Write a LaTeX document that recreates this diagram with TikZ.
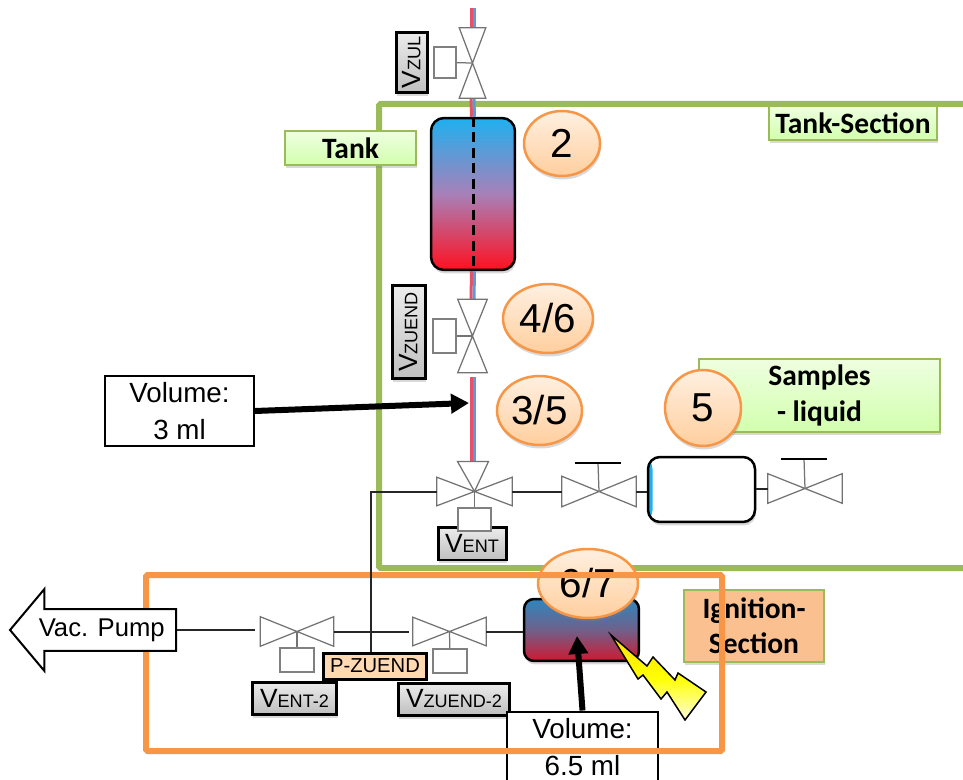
\documentclass[tikz,border=0pt]{standalone}
\usepackage{fontspec}
\setmainfont{Liberation Sans}
\newfontfamily\labelfont{Carlito}
\usetikzlibrary{arrows.meta,shapes.geometric,shapes.arrows,shadows}
\definecolor{secgreen}{HTML}{9BBB59}
\definecolor{secorange}{HTML}{F79646}
\definecolor{tankblue}{HTML}{1FB0F0}
\definecolor{tankmid}{HTML}{A880B8}
\definecolor{tankred}{HTML}{FF1020}
\definecolor{chambertop}{HTML}{2E86BE}
\definecolor{chambermid}{HTML}{70608A}
\definecolor{chamberbot}{HTML}{D01830}
\definecolor{ignitionfill}{HTML}{FAC08F}
\definecolor{pipepink}{HTML}{E8506A}
\definecolor{pipesky}{HTML}{5B9BD5}
\newcommand{\vname}[2]{{\fontsize{15}{16}\selectfont #1}{\fontsize{10.3}{12}\selectfont #2}}
\begin{document}
\begin{tikzpicture}[
        x=0.02cm, y=-0.02cm,
        softshadow/.style={drop shadow={shadow xshift=0.02cm, shadow yshift=-0.07cm, opacity=0.3}},
        section/.style={draw=#1, line width=0.12cm, rounded corners=0.03cm},
        secname/.style={rectangle, draw=secgreen, line width=0.04cm, top color=green!55!yellow!12, bottom color=green!55!yellow!32, softshadow, font=\labelfont\bfseries\fontsize{16.8}{20}\selectfont, align=center, inner sep=0pt},
        bubble/.style={ellipse, draw=secorange, line width=0.05cm, top color=orange!12, bottom color=orange!38, softshadow, font=\fontsize{23}{26}\selectfont, inner sep=0pt},
        valvename/.style={rectangle, draw=black, line width=0.06cm, top color=gray!15, bottom color=gray!50, softshadow, inner sep=0pt},
        volbox/.style={rectangle, draw=black, line width=0.04cm, fill=white, font=\fontsize{15.8}{21}\selectfont, align=center, inner sep=0pt},
        bigarrow/.style={-{Triangle[length=0.36cm, width=0.38cm]}, line width=0.12cm},
        vessel/.style={rectangle, draw=black, line width=0.05cm, rounded corners=0.26cm, inner sep=0pt, softshadow},
        valvebody/.style={rectangle, inner sep=0pt},
        valveline/.style={draw=gray!90!black, line width=0.025cm, fill=white},
        actuator/.style={rectangle, draw=gray, line width=0.03cm, fill=white, inner sep=0pt},
        line/.style={line width=0.04cm, draw=black!85},
        pipered/.style={line width=0.06cm, draw=pipepink},
        pipeblue/.style={line width=0.06cm, draw=pipesky}
    ]
        \useasboundingbox (0,0) rectangle (963,780);
        \clip (0,0) rectangle (963,780);

        % Tank section frame
        \draw[section=secgreen] (379,104) rectangle (1000,568);

        % Pipe points
        \coordinate (p_top) at (472.5,8);
        \coordinate (p_mid) at (472.5,377);
        \coordinate (p_bot) at (472.5,462);

        % Vessels
        \node[vessel, minimum width=1.68cm, minimum height=3.04cm, top color=tankblue, bottom color=tankred, middle color=tankmid] (tank) at (473,194) {};
        \node[vessel, minimum width=2.14cm, minimum height=1.3cm, rounded corners=0.24cm, fill=white, path picture={\fill[tankblue] (path picture bounding box.south west) rectangle ([xshift=0.09cm]path picture bounding box.north west);}] (sample) at (701.5,489.5) {};
        \node[vessel, minimum width=2.3cm, minimum height=1.24cm, rounded corners=0.2cm, top color=chambertop, bottom color=chamberbot, middle color=chambermid] (chamber) at (581.5,630) {};

        % Valves
        \node[valvebody, minimum width=0.52cm, minimum height=1.4cm] (v_zul) at (472.5,63) {};
        \node[valvebody, minimum width=0.58cm, minimum height=1.46cm] (v_zuend) at (472.5,336) {};
        \node[valvebody, minimum width=1.5cm, minimum height=0.56cm] (v_ent) at (474.5,491.5) {};
        \node[valvebody, minimum width=1.48cm, minimum height=0.6cm] (v_left) at (599,491.5) {};
        \node[valvebody, minimum width=1.48cm, minimum height=0.58cm] (v_right) at (805,488.5) {};
        \node[valvebody, minimum width=1.46cm, minimum height=0.58cm] (v_ent2) at (297,631.5) {};
        \node[valvebody, minimum width=1.46cm, minimum height=0.56cm] (v_zuend2) at (449.5,631.5) {};

        % Actuators
        \node[actuator, minimum width=0.44cm, minimum height=0.62cm] (a_zul) at (445,62.5) {};
        \node[actuator, minimum width=0.46cm, minimum height=0.68cm] (a_zuend) at (444.5,336) {};
        \node[actuator, minimum width=0.68cm, minimum height=0.48cm] (a_ent2) at (297,660) {};
        \node[actuator, minimum width=0.68cm, minimum height=0.48cm] (a_zuend2) at (450,661) {};

        % Handles
        \coordinate (h_left) at (598,463);
        \coordinate (h_right) at (804,459);

        % Pipes
        \foreach \a/\b in {p_top/v_zul.north, v_zul.south/tank.north, tank.south/v_zuend.north, p_mid/p_bot} {
            \draw[pipered] ([xshift=-0.03cm]\a) -- ([xshift=-0.03cm]\b);
            \draw[pipeblue] ([xshift=0.03cm]\a) -- ([xshift=0.03cm]\b);
        }
        \draw[line width=0.06cm, dash pattern=on 0.2cm off 0.11cm] (tank.north) -- (tank.south);

        % Valve bodies
        \foreach \v in {v_zul, v_zuend}
            \draw[valveline] (\v.north west) -- (\v.south east) -- (\v.south west) -- (\v.north east) -- cycle;
        \foreach \v in {v_ent, v_left, v_right, v_ent2, v_zuend2}
            \draw[valveline] (\v.north west) -- (\v.south east) -- (\v.north east) -- (\v.south west) -- cycle;
        \draw[valveline] (v_ent.center) -- +(-17,-30) -- +(14,-30) -- cycle;
        \draw[valveline] (a_zul) -- (v_zul.center);
        \draw[valveline] (a_zuend) -- (v_zuend.center);
        \draw[valveline] (a_ent2) -- (v_ent2.center);
        \draw[valveline] (a_zuend2) -- (v_zuend2.center);
        \draw[valveline] (h_left) -- (v_left.center);
        \draw[valveline] (h_right) -- (v_right.center);
        \draw[line width=0.05cm] (h_left) +(-23,0) -- +(23,0);
        \draw[line width=0.05cm] (h_right) +(-23,0) -- +(23,0);

        % Valve names
        \node[valvename, rotate=90, minimum width=1.22cm, minimum height=0.62cm] (n_zul) at (411.5,62.5) {\vname{V}{ZUL}};
        \node[valvename, rotate=90, minimum width=1.88cm, minimum height=0.66cm] (n_zuend) at (408.5,332) {\vname{V}{ZUEND}};
        \node[valvename, minimum width=1.36cm, minimum height=0.66cm] (n_ent) at (472,543.5) {\vname{V}{ENT}};
        \node[actuator, minimum width=0.66cm, minimum height=0.46cm] (a_ent) at (474.5,519.5) {};
        \draw[valveline] (a_ent) -- (v_ent.center);
        \node[valvename, minimum width=1.7cm, minimum height=0.64cm] (n_ent2) at (294.5,698) {\vname{V}{ENT-2}};
        \node[valvename, minimum width=2.24cm, minimum height=0.64cm] (n_zuend2) at (454,699) {\vname{V}{ZUEND-2}};

        % Section names
        \node[secname, minimum width=2.62cm, minimum height=0.68cm] (l_tank) at (350.5,148) {Tank};
        \node[secname, minimum width=3.36cm, minimum height=0.68cm] (l_section) at (853,123) {Tank-Section};
        \node[secname, minimum width=4.82cm, minimum height=1.46cm] (l_samples) at (819.5,395.5) {Samples\\- liquid};
        \node[secname, minimum width=2.8cm, minimum height=1.44cm, top color=ignitionfill, bottom color=ignitionfill] (l_ignition) at (754,626) {Ignition-\\Section};

        % Numbers
        \node[bubble, minimum width=1.52cm, minimum height=1.3cm] (b_two) at (562,143.5) {2};
        \node[bubble, minimum width=1.8cm, minimum height=1.38cm] (b_fourSix) at (548,318.5) {4/6};
        \node[bubble, minimum width=1.7cm, minimum height=1.38cm] (b_threeFive) at (539.5,410.5) {3/5};
        \node[bubble, minimum width=1.52cm, minimum height=1.52cm] (b_five) at (703,408) {5};
        \node[bubble, minimum width=2cm, minimum height=1.38cm] (b_sixSeven) at (588,583.5) {6/7};

        % Volume boxes
        \node[volbox, minimum width=2.98cm, minimum height=1.4cm] (vol_three) at (179.5,411) {Volume:\\3 ml};
        \node[volbox, minimum width=3.02cm, minimum height=1.44cm] (vol_six) at (582.5,747.5) {Volume:\\6.5 ml};

        % Ignition spark
        \draw[line width=0.03cm, top color=yellow!75!orange, bottom color=yellow!15, middle color=yellow] (611,635) -- (647,666) -- (653,657) -- (675,680) -- (678,673) -- (706,692) -- (685,720) -- (667,692) -- (661,699) -- (643,675) -- (638,679) -- cycle;

        % Ignition section frame
        \draw[section=secorange] (146,575) rectangle (722,751);

        % Pump
        \node[single arrow, shape border rotate=180, draw=black, line width=0.04cm, fill=white, anchor=tail, minimum height=3.32cm, minimum width=1.64cm, single arrow head extend=0.32cm, single arrow tip angle=100, inner xsep=0pt, inner ysep=0.08cm, font=\fontsize{14.6}{16}\selectfont] (pump) at (177,630) {Vac. Pump};

        % Connections
        \coordinate (c_pump) at (255,630);
        \coordinate (c_mid) at (409,631.5);
        \draw[line] (pump.tail) -- (c_pump);
        \draw[line] (v_ent2.east) -- (c_mid);
        \draw[line] (v_zuend2.east) -- (v_zuend2.east -| chamber.west);
        \draw[line] (v_ent.east) -- (v_left.west);
        \draw[line] (v_left.east) -- (v_left.east -| sample.west);
        \draw[line] (sample.east |- v_right) -- (v_right.west);

        % Pressure sensor
        \node[rectangle, draw=black, line width=0.06cm, fill=orange!30, minimum width=2.08cm, minimum height=0.52cm, inner sep=0pt, font=\fontsize{11.5}{13}\selectfont] (p_zuend) at (375,666) {P-ZUEND};
        \draw[line] (v_ent.west) -| (p_zuend.north -| 371,0);

        % Volume arrows
        \draw[bigarrow] (vol_three.east) -- (469,403);
        \draw[bigarrow] (vol_six.north) -- (577,636);
    \end{tikzpicture}
\end{document}
